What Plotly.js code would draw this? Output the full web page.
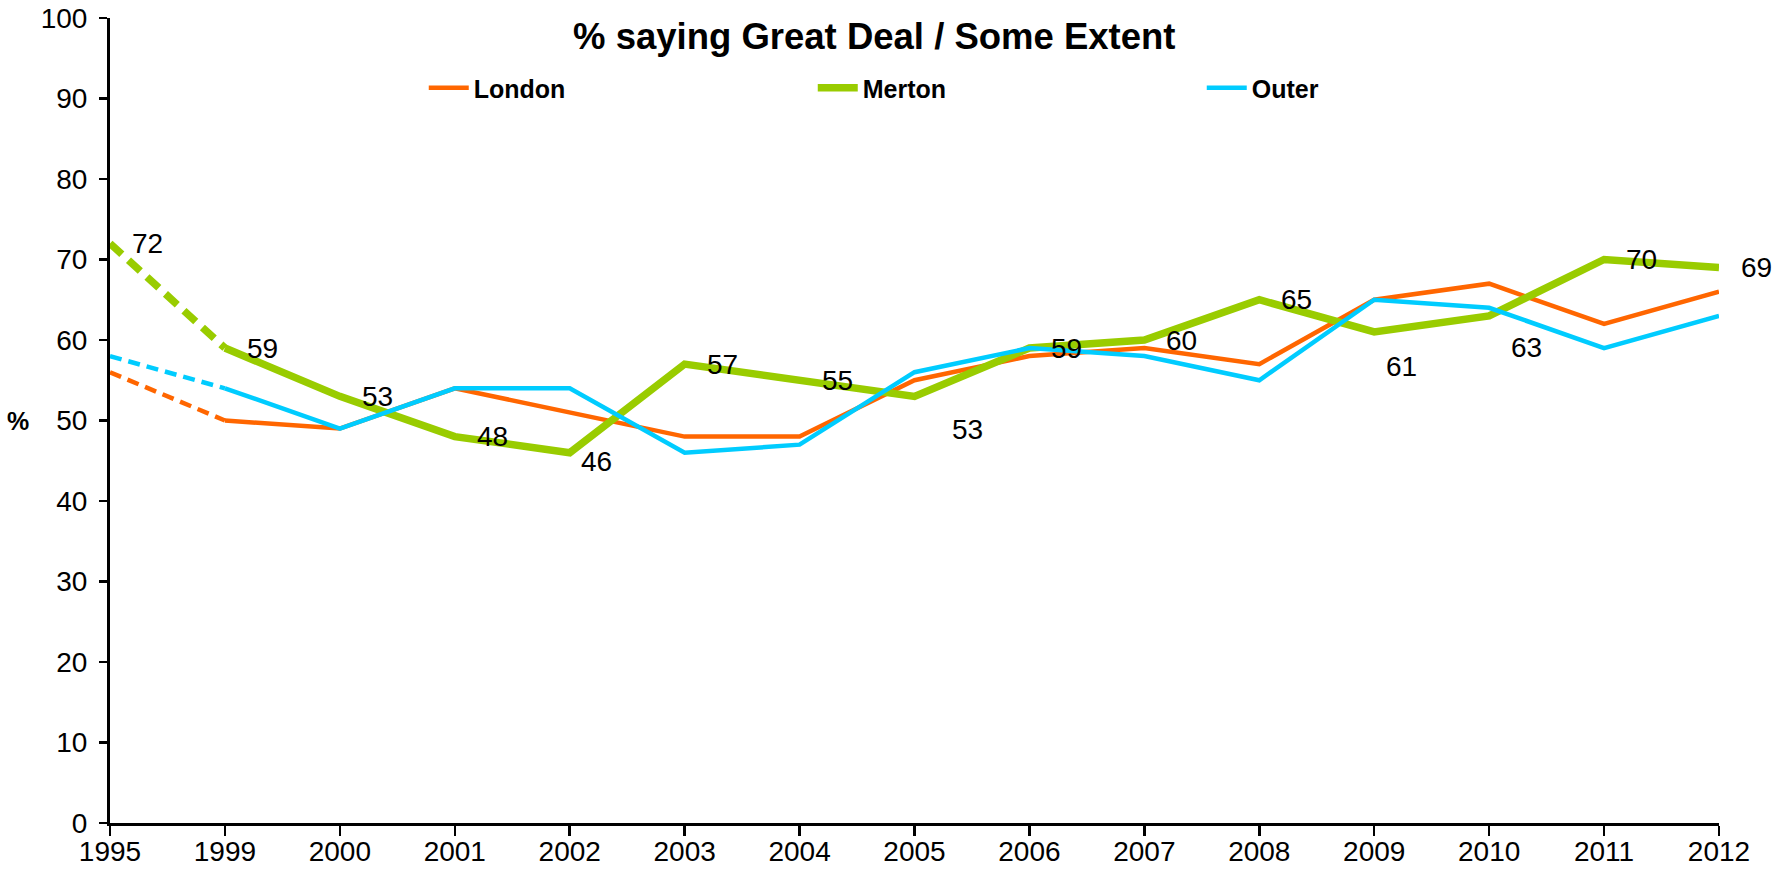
<!DOCTYPE html>
<html><head><meta charset="utf-8">
<script src="https://cdn.plot.ly/plotly-3.0.1.min.js"></script>
<style>html,body{margin:0;padding:0;background:#fff}#chart{width:1773px;height:873px}</style>
</head><body><div id="chart"></div>
<script>
// ---- data ----
const years  = ['1995','1999','2000','2001','2002','2003','2004','2005','2006','2007','2008','2009','2010','2011','2012'];
const london = [56,50,49,54,51,48,48,55,58,59,57,65,67,62,66];
const merton = [72,59,53,48,46,57,55,53,59,60,65,61,63,70,69];
const outer  = [58,54,49,54,54,46,47,56,59,58,55,65,64,59,63];
const seriesNames = ['London','Merton','Outer'];

// ---- style ----
const colors = {London:'#FF6600', Merton:'#99CC00', Outer:'#00CCFF'};
const widths = {London:4.5, Merton:7.5, Outer:4.5};
const dashes = {London:'12px,7px', Merton:'16px,9px', Outer:'12px,7px'};
// label placement classes for Merton data labels (style only)
const labelPlace = ['r','r','r','r','l','r','r','bf','r','r','r','bn','b','r','r'];
const placeShift = {
  r:{dx:20, dy:0}, l:{dx:9, dy:-9}, b:{dx:20, dy:-32}, bf:{dx:35, dy:-33}, bn:{dx:10, dy:-35}
};
const FONT = 'Liberation Sans, Arial, sans-serif';

const seriesData = {London:london, Merton:merton, Outer:outer};
const traces = [];
seriesNames.forEach(name => {
  const vals = seriesData[name];
  traces.push({
    x: years.slice(0,2), y: vals.slice(0,2), type:'scatter', mode:'lines',
    line:{color:colors[name], width:widths[name], dash:dashes[name]},
    showlegend:false, hoverinfo:'skip'
  });
  traces.push({
    x: years.slice(1), y: vals.slice(1), type:'scatter', mode:'lines', name:name,
    line:{color:colors[name], width:widths[name]}
  });
});

// category axis: annotation x uses the category index
const annotations = years.map((yr, i) => ({
  x: i, y: merton[i], xref:'x', yref:'y', text: String(merton[i]), showarrow:false,
  xanchor:'left', yanchor:'middle',
  xshift: placeShift[labelPlace[i]].dx, yshift: placeShift[labelPlace[i]].dy,
  font:{family:FONT, size:28, color:'#000'}
}));
annotations.push({
  text:'<b>%</b>', xref:'paper', yref:'paper', x:-0.057, y:0.5, xanchor:'center', yanchor:'middle',
  showarrow:false, font:{family:FONT, size:25, color:'#000'}
});

const layout = {
  width:1773, height:873,
  margin:{l:110, r:54, t:18, b:50},
  paper_bgcolor:'#fff', plot_bgcolor:'#fff',
  font:{family:FONT, color:'#000'},
  title:{text:'<b>% saying Great Deal / Some Extent</b>', font:{family:FONT, size:36.5, color:'#000'},
         x:0.475, xref:'paper', xanchor:'center', y:0.958, yref:'container', yanchor:'middle'},
  showlegend:true,
  legend:{orientation:'h', x:0.195, xanchor:'left', y:0.913, yanchor:'middle',
          entrywidth:334, entrywidthmode:'pixels', itemwidth:40,
          font:{family:FONT, size:25, color:'#000', weight:'bold'}, bgcolor:'rgba(0,0,0,0)', traceorder:'normal'},
  xaxis:{type:'category', range:[0,14], showline:true, linecolor:'#000', linewidth:3,
         ticks:'outside', ticklen:10, tickwidth:2.5, tickcolor:'#000', showgrid:false, zeroline:false,
         tickfont:{family:FONT, size:28, color:'#000'}, ticklabelstandoff:-9, fixedrange:true},
  yaxis:{range:[0,100], dtick:10, showline:true, linecolor:'#000', linewidth:3,
         ticks:'outside', ticklen:8, tickwidth:2.5, tickcolor:'#000', showgrid:false, zeroline:false,
         tickfont:{family:FONT, size:28, color:'#000'}, ticklabelstandoff:6},
  annotations: annotations
};
Plotly.newPlot('chart', traces, layout, {displayModeBar:false, staticPlot:true});
</script></body></html>
